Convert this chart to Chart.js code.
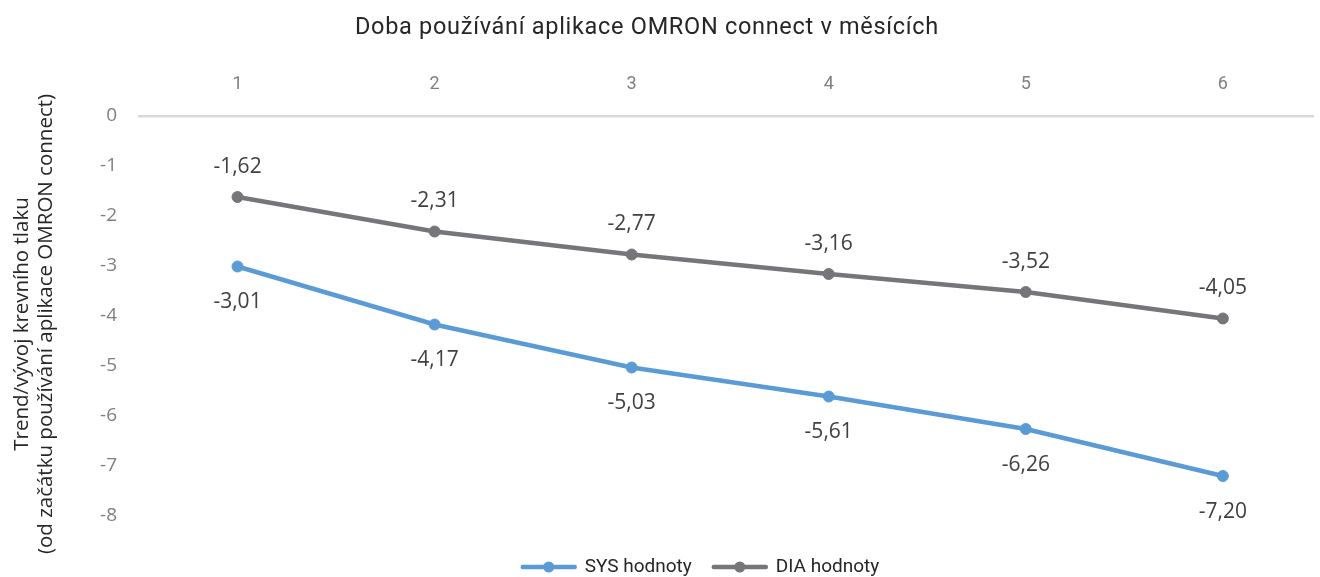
<!DOCTYPE html>
<html><head><meta charset="utf-8">
<script src="https://cdn.jsdelivr.net/npm/chart.js@4.4.1/dist/chart.umd.min.js"></script>
<style>html,body{margin:0;padding:0;background:#fff;overflow:hidden}#wrap{width:1320px;height:577px;position:relative}canvas{display:block}</style>
</head><body><div id="wrap"><canvas id="c" width="1320" height="577"></canvas></div>
<script>
const months = ['1', '2', '3', '4', '5', '6'];
const sysValues = [-3.01, -4.17, -5.03, -5.61, -6.26, -7.20];
const diaValues = [-1.62, -2.31, -2.77, -3.16, -3.52, -4.05];
const yTicks = [0, -1, -2, -3, -4, -5, -6, -7, -8];
const seriesNames = ['SYS hodnoty', 'DIA hodnoty'];
const chartTitle = 'Doba používání aplikace OMRON connect v měsících';
const yTitle = ['Trend/vývoj krevního tlaku', '(od začátku používání aplikace OMRON connect)'];

const SYS_COLOR = '#5b9bd5';
const DIA_COLOR = '#76767a';

const toPoints = vals => months.map((m, i) => ({ x: i + 1, y: vals[i] }));

const overlay = {
  id: 'overlay',
  afterDatasetsDraw(chart) {
    const ctx = chart.ctx;
    ctx.save();
    ctx.font = '21px "Open Sans"';
    ctx.fillStyle = '#404040';
    ctx.textAlign = 'center';
    ctx.textBaseline = 'middle';
    chart.data.datasets.forEach((ds, di) => {
      const meta = chart.getDatasetMeta(di);
      meta.data.forEach((pt, i) => {
        const v = ds.data[i].y;
        ctx.fillText(v.toFixed(2).replace('.', ','), pt.x, pt.y + ds.labelOffset);
      });
    });
    ctx.restore();
  },
  afterDraw(chart) {
    const ctx = chart.ctx;
    const area = chart.chartArea;
    ctx.save();
    // top title
    ctx.font = '23.5px Roboto';
    ctx.letterSpacing = '0.7px';
    ctx.fillStyle = '#262626';
    ctx.textAlign = 'center';
    ctx.textBaseline = 'middle';
    ctx.fillText(chartTitle, 647, 28);
    ctx.letterSpacing = '0px';
    // y axis title
    ctx.save();
    ctx.translate(22, (area.top + area.bottom) / 2 + 8);
    ctx.rotate(-Math.PI / 2);
    ctx.font = '20.5px "Open Sans"';
    ctx.fillStyle = '#262626';
    ctx.textAlign = 'center';
    ctx.textBaseline = 'middle';
    yTitle.forEach((line, i) => ctx.fillText(line, 0, i * 24));
    ctx.restore();
    // legend
    ctx.font = '19px Roboto';
    ctx.textBaseline = 'middle';
    ctx.textAlign = 'left';
    const lineW = 56, gapText = 8, gapItem = 20, ly = 567;
    const items = chart.data.datasets.map(ds => ({ ds, w: lineW + gapText + ctx.measureText(ds.label).width }));
    const total = items.reduce((s, it) => s + it.w, 0) + gapItem * (items.length - 1);
    let x = 700 - total / 2;
    items.forEach(it => {
      ctx.strokeStyle = it.ds.borderColor;
      ctx.lineWidth = 4.5;
      ctx.lineCap = 'round';
      ctx.beginPath();
      ctx.moveTo(x + 2, ly);
      ctx.lineTo(x + lineW - 2, ly);
      ctx.stroke();
      ctx.fillStyle = it.ds.borderColor;
      ctx.beginPath();
      ctx.arc(x + lineW / 2, ly, 5.5, 0, Math.PI * 2);
      ctx.fill();
      ctx.fillStyle = '#262626';
      ctx.fillText(it.ds.label, x + lineW + gapText, ly);
      x += it.w + gapItem;
    });
    ctx.restore();
  }
};

new Chart(document.getElementById('c'), {
  type: 'line',
  data: {
    datasets: [
      { label: seriesNames[0], data: toPoints(sysValues), borderColor: SYS_COLOR, backgroundColor: SYS_COLOR,
        borderWidth: 4.5, pointRadius: 5.5, pointBorderWidth: 1, pointBackgroundColor: SYS_COLOR, pointBorderColor: SYS_COLOR,
        tension: 0, labelOffset: 36 },
      { label: seriesNames[1], data: toPoints(diaValues), borderColor: DIA_COLOR, backgroundColor: DIA_COLOR,
        borderWidth: 4.5, pointRadius: 5.5, pointBorderWidth: 1, pointBackgroundColor: DIA_COLOR, pointBorderColor: DIA_COLOR,
        tension: 0, labelOffset: -30 }
    ]
  },
  options: {
    responsive: false,
    animation: false,
    devicePixelRatio: 1,
    layout: { padding: { top: 0, left: 0, right: 0, bottom: 61 } },
    plugins: { legend: { display: false }, title: { display: false }, tooltip: { enabled: false } },
    scales: {
      x: {
        type: 'linear', position: 'top', min: 0.5, max: 6.46,
        afterBuildTicks: s => { s.ticks = months.map((m, i) => ({ value: i + 1 })); },
        afterFit: s => { s.height = 116; },
        grid: { display: false, drawTicks: false },
        border: { display: true, color: '#d9d9d9', width: 2.5 },
        ticks: { padding: 21, color: '#808080', font: { family: 'Roboto', size: 18 },
                 callback: v => months[v - 1], maxRotation: 0, autoSkip: false }
      },
      y: {
        min: -8, max: 0,
        afterBuildTicks: s => { s.ticks = yTicks.map(v => ({ value: v })); },
        afterFit: s => { s.width = 139; },
        grid: { display: false, drawTicks: false },
        border: { display: false },
        ticks: { padding: 22, color: '#7f7f7f', font: { family: 'Open Sans', size: 19 },
                 callback: v => String(v) }
      }
    }
  },
  plugins: [overlay]
});
</script>
</body></html>
